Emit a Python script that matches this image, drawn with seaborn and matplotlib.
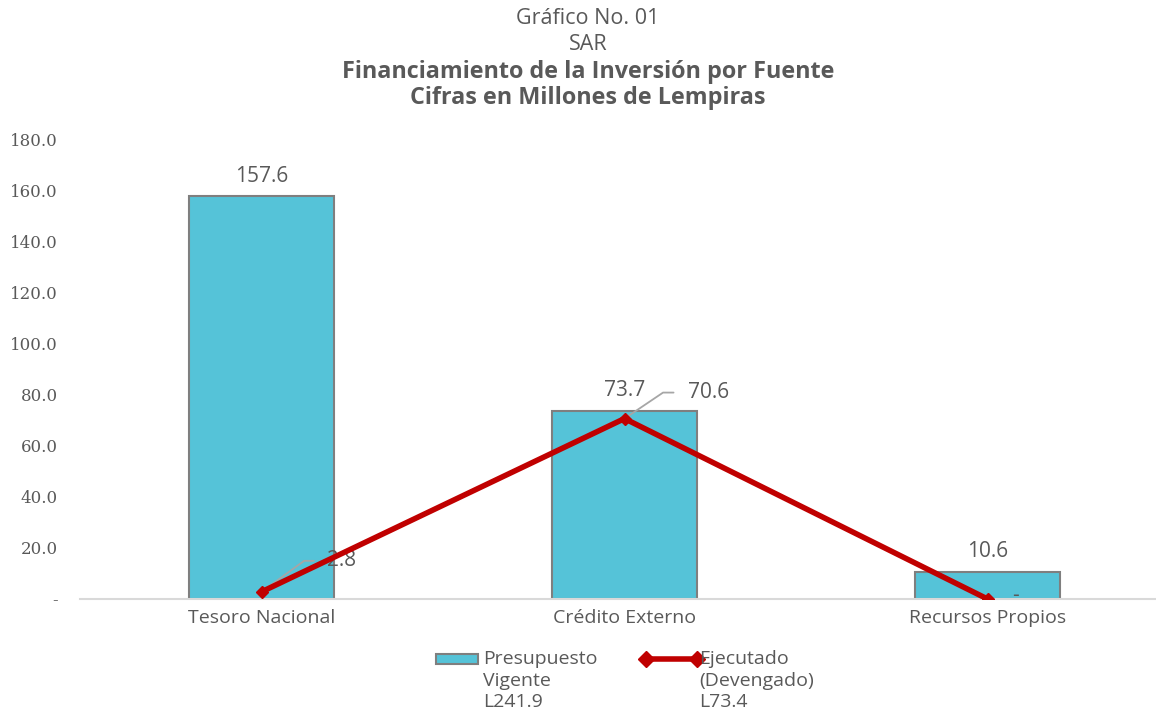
import matplotlib
matplotlib.use("Agg")
import matplotlib.pyplot as plt
import seaborn as sns
import pandas as pd
from matplotlib.patches import Rectangle
from matplotlib.lines import Line2D

# datos del gráfico
fuentes = ["Tesoro Nacional", "Crédito Externo", "Recursos Propios"]
presupuesto = [157.6, 73.7, 10.6]
ejecutado = [2.8, 70.6, 0.0]
leyenda_barras = "Presupuesto\nVigente\nL241.9"
leyenda_linea = "Ejecutado\n(Devengado)\nL73.4"
yticks = [0, 20, 40, 60, 80, 100, 120, 140, 160, 180]

sns.set_theme(style="white")
plt.rcParams["font.family"] = ["Open Sans", "DejaVu Sans"]

COLOR_BARRA = "#55C3D8"
COLOR_LINEA = "#C00000"
GRIS_TXT = "#595959"
W, H = 1156, 709

df = pd.DataFrame({"fuente": fuentes, "presupuesto": presupuesto, "ejecutado": ejecutado})

fig = plt.figure(figsize=(W / 100, H / 100), dpi=100)
ax = fig.add_axes([80 / W, 1 - 599 / H, 1075 / W, 460 / H])

sns.barplot(data=df, x="fuente", y="presupuesto", color=COLOR_BARRA, width=0.4,
            edgecolor="#7F7F7F", linewidth=1.5, saturation=1, ax=ax)
ax.plot(range(len(fuentes)), ejecutado, color=COLOR_LINEA, linewidth=4,
        marker="D", markersize=6, zorder=5)

ax.set_xlim(-0.5, -0.5 + 1075 / 363)
ax.set_ylim(0, 180)
ax.set_yticks(yticks)
ax.set_yticklabels(["-" if v == 0 else f"{v:.1f}" for v in yticks],
                   family=["DejaVu Serif"], fontsize=12, color=GRIS_TXT)
ax.tick_params(axis="y", length=0, pad=16)
ax.tick_params(axis="x", length=0, pad=7, labelsize=14, labelcolor=GRIS_TXT)
ax.set_xlabel("")
ax.set_ylabel("")
for s in ["top", "right", "left"]:
    ax.spines[s].set_visible(False)
ax.spines["bottom"].set_color("#D9D9D9")
ax.spines["bottom"].set_linewidth(1.5)

# etiquetas de las barras
for i, v in enumerate(presupuesto):
    ax.annotate(f"{v:.1f}", (i, v), xytext=(0, 20), textcoords="offset pixels",
                ha="center", va="center", fontsize=15, color=GRIS_TXT)

# etiquetas de la línea con líneas guía quebradas
guia = dict(arrowstyle="-", color="#A6A6A6", lw=1.3, shrinkB=2, relpos=(0, 0.5))
ax.annotate(f"{ejecutado[0]:.1f}", (0, ejecutado[0]), xytext=(80, 31), textcoords="offset pixels",
            ha="center", va="center", fontsize=15, color=GRIS_TXT, zorder=4,
            arrowprops=dict(guia, shrinkA=7, connectionstyle="angle,angleA=0,angleB=36,rad=0"))
ax.annotate(f"{ejecutado[1]:.1f}", (1, ejecutado[1]), xytext=(84, 26), textcoords="offset pixels",
            ha="center", va="center", fontsize=15, color=GRIS_TXT, zorder=4,
            arrowprops=dict(guia, shrinkA=8, connectionstyle="angle,angleA=0,angleB=34,rad=0"))
ax.annotate("-", (2, ejecutado[2]), xytext=(28, 4), textcoords="offset pixels",
            ha="center", va="center", fontsize=15, color=GRIS_TXT)

# títulos
XT = 588 / W
fig.text(XT, 1 - 18 / H, "Gráfico No. 01", ha="center", va="center", fontsize=15.5, color=GRIS_TXT)
fig.text(XT, 1 - 45 / H, "SAR", ha="center", va="center", fontsize=15.5, color=GRIS_TXT)
fig.text(XT, 1 - 72 / H, "Financiamiento de la Inversión por Fuente", ha="center", va="center",
         fontsize=16.8, fontweight="bold", color=GRIS_TXT)
fig.text(XT, 1 - 98 / H, "Cifras en Millones de Lempiras", ha="center", va="center",
         fontsize=16.8, fontweight="bold", color=GRIS_TXT)

# leyenda dibujada a mano para alinear el símbolo con la primera línea
fig.add_artist(Rectangle((436 / W, 1 - 664 / H), 42 / W, 10 / H, transform=fig.transFigure,
                         facecolor=COLOR_BARRA, edgecolor="#7F7F7F", linewidth=1.5))
fig.text(483 / W, 1 - 650 / H, leyenda_barras, ha="left", va="top", fontsize=14,
         color=GRIS_TXT, linespacing=1.25)
fig.add_artist(Line2D([646 / W, 697 / W], [1 - 659 / H, 1 - 659 / H], transform=fig.transFigure,
                      color=COLOR_LINEA, linewidth=4, marker="D", markersize=8))
fig.text(699 / W, 1 - 650 / H, leyenda_linea, ha="left", va="top", fontsize=14,
         color=GRIS_TXT, linespacing=1.25)

fig.savefig("out.png", dpi=100)
